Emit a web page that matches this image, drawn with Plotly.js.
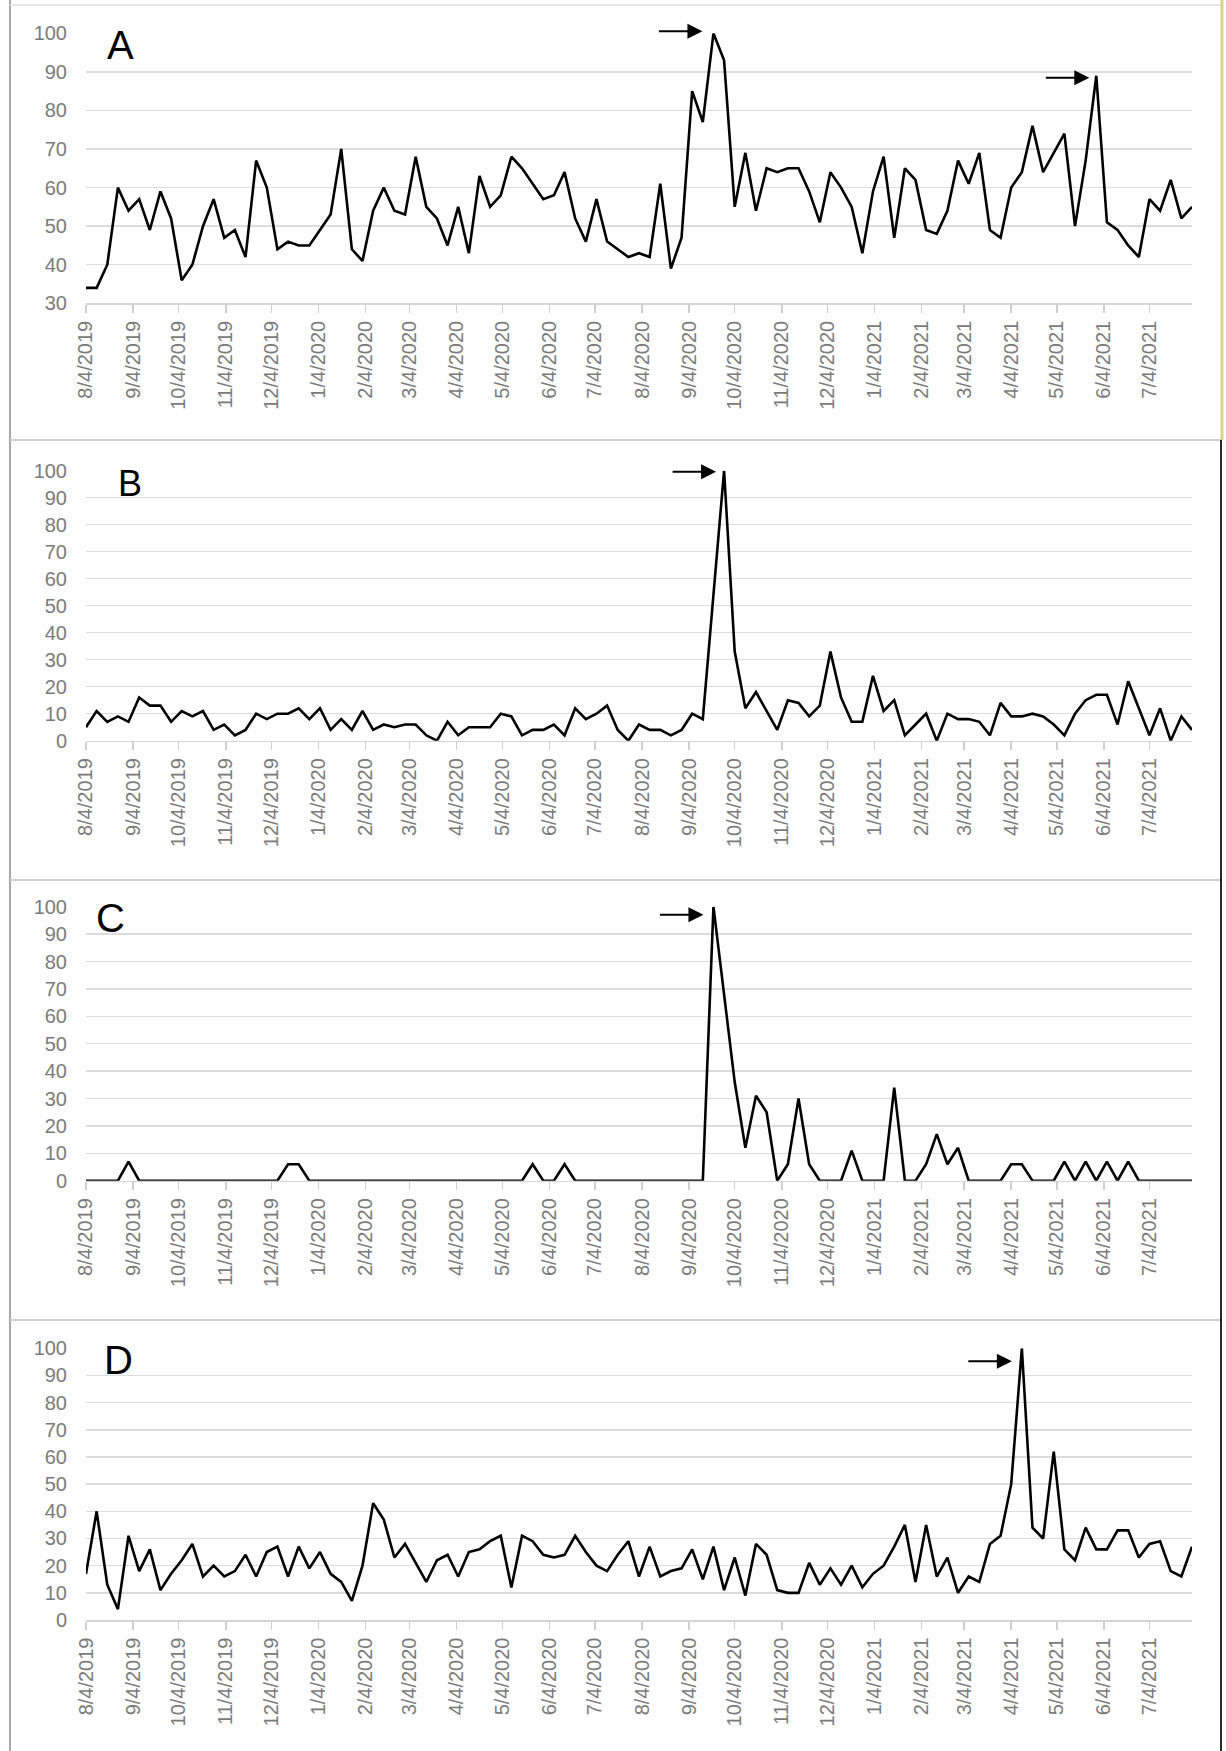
<!DOCTYPE html>
<html><head><meta charset="utf-8">
<script src="https://cdn.plot.ly/plotly-3.0.1.min.js"></script>
<style>html,body{margin:0;padding:0;background:#fff;} #chart{width:1226px;height:1751px;}</style>
</head><body><div id="chart"></div>
<script>
// ---- data ----
const startDate = '2019-08-04';   // first weekly observation (Sunday)
const weekCount = 105;            // weekly observations to 2021-08-01

const tickDates = ['2019-08-04','2019-09-04','2019-10-04','2019-11-04','2019-12-04',
  '2020-01-04','2020-02-04','2020-03-04','2020-04-04','2020-05-04','2020-06-04','2020-07-04',
  '2020-08-04','2020-09-04','2020-10-04','2020-11-04','2020-12-04',
  '2021-01-04','2021-02-04','2021-03-04','2021-04-04','2021-05-04','2021-06-04','2021-07-04'];
const tickLabels = ['8/4/2019','9/4/2019','10/4/2019','11/4/2019','12/4/2019',
  '1/4/2020','2/4/2020','3/4/2020','4/4/2020','5/4/2020','6/4/2020','7/4/2020',
  '8/4/2020','9/4/2020','10/4/2020','11/4/2020','12/4/2020',
  '1/4/2021','2/4/2021','3/4/2021','4/4/2021','5/4/2021','6/4/2021','7/4/2021'];

const seriesA = [34,34,40,60,54,57,49,59,52,36, 40,50,57,47,49,42,67,60,44,46,
  45,45,49,53,70,44,41,54,60,54, 53,68,55,52,45,55,43,63,55,58,
  68,65,61,57,58,64,52,46,57,46, 44,42,43,42,61,39,47,85,77,100,
  93,55,69,54,65,64,65,65,59,51, 64,60,55,43,59,68,47,65,62,49,
  48,54,67,61,69,49,47,60,64,76, 64,69,74,50,67,89,51,49,45,42,
  57,54,62,52,55];
const seriesB = [5,11,7,9,7,16,13,13,7,11, 9,11,4,6,2,4,10,8,10,10,
  12,8,12,4,8,4,11,4,6,5, 6,6,2,0,7,2,5,5,5,10,
  9,2,4,4,6,2,12,8,10,13, 4,0,6,4,4,2,4,10,8,54,
  100,33,12,18,11,4,15,14,9,13, 33,16,7,7,24,11,15,2,6,10,
  0,10,8,8,7,2,14,9,9,10, 9,6,2,10,15,17,17,6,22,12,
  2,12,0,9,4];
const seriesC = [0,0,0,0,7,0,0,0,0,0, 0,0,0,0,0,0,0,0,0,6,
  6,0,0,0,0,0,0,0,0,0, 0,0,0,0,0,0,0,0,0,0,
  0,0,6,0,0,6,0,0,0,0, 0,0,0,0,0,0,0,0,0,100,
  68,36,12,31,25,0,6,30,6,0, 0,0,11,0,0,0,34,0,0,6,
  17,6,12,0,0,0,0,6,6,0, 0,0,7,0,7,0,7,0,7,0,
  0,0,0,0,0];
const seriesD = [17,40,13,4,31,18,26,11,17,22, 28,16,20,16,18,24,16,25,27,16,
  27,19,25,17,14,7,20,43,37,23, 28,21,14,22,24,16,25,26,29,31,
  12,31,29,24,23,24,31,25,20,18, 24,29,16,27,16,18,19,26,15,27,
  11,23,9,28,24,11,10,10,21,13, 19,13,20,12,17,20,27,35,14,35,
  16,23,10,16,14,28,31,50,100,34, 30,62,26,22,34,26,26,33,33,23,
  28,29,18,16,27];

const panelLetters = ['A','B','C','D'];
const yRanges = [[30,100],[0,100],[0,100],[0,100]];
// arrows: which week index they point at, per panel
const arrowTargets = [[0,59],[0,95],[1,60],[2,59],[3,88]];

// ---- build ----
function weeklyDates(start, n){
  const out=[]; const d0=new Date(start+'T00:00:00Z');
  for(let i=0;i<n;i++){ out.push(new Date(d0.getTime()+i*7*86400000).toISOString().slice(0,10)); }
  return out;
}
const dates = weeklyDates(startDate, weekCount);
const allSeries = [seriesA, seriesB, seriesC, seriesD];

const W=1226, H=1751;
const px = x => x/W;
const py = y => 1 - y/H;

// plot-area pixel boxes [top, bottom]
const boxes = [[33.3,303.3],[470.7,740.7],[906.7,1180.7],[1348.3,1620]];
const xL = 86, xR = 1192;
const tickFont = {family:'Liberation Sans, Arial, sans-serif', size:20, color:'#7b7b7b'};

const traces = allSeries.map((s,k)=>({
  x: dates, y: s, type:'scatter', mode:'lines',
  line:{color:'#000000', width:2.6},
  xaxis: k===0?'x':'x'+(k+1), yaxis: k===0?'y':'y'+(k+1),
  hoverinfo:'skip', showlegend:false
}));

const layout = {
  width:W, height:H, margin:{l:0,r:0,t:0,b:0},
  paper_bgcolor:'#ffffff', plot_bgcolor:'#ffffff', showlegend:false,
  shapes:[], annotations:[]
};

boxes.forEach((b,k)=>{
  const xn = k===0?'xaxis':'xaxis'+(k+1);
  const yn = k===0?'yaxis':'yaxis'+(k+1);
  const yr = yRanges[k];
  const tv=[]; for(let v=yr[0]; v<=yr[1]; v+=10) tv.push(v);
  layout[xn] = {
    domain:[px(xL), px(xR)], anchor: k===0?'y':'y'+(k+1),
    type:'date', range:[dates[0], dates[dates.length-1]],
    tickmode:'array', tickvals:tickDates, ticktext:tickLabels, tickangle:-90,
    ticks:'outside', ticklen:8, tickwidth:1.5, tickcolor:'#cfcfcf',
    showline:true, linecolor:'#d4d4d4', linewidth:1.5,
    showgrid:false, zeroline:false, tickfont:tickFont, fixedrange:true
  };
  layout[yn] = {
    domain:[py(b[1]), py(b[0])], anchor: k===0?'x':'x'+(k+1),
    range:yr, tickmode:'array', tickvals:tv, ticktext:tv.map(String),
    showgrid:true, gridcolor:'#dcdcdc', gridwidth:1.5,
    zeroline:false, showline:false, ticks:'', ticklabelstandoff:18,
    tickfont:tickFont, fixedrange:true
  };
});

// letters
const letterPos = [[120,45,40],[130,484,36],[110,918,40],[118,1360,40]];
panelLetters.forEach((L,k)=>{
  layout.annotations.push({text:L, xref:'paper', yref:'paper',
    x:px(letterPos[k][0]), y:py(letterPos[k][1]), xanchor:'center', yanchor:'middle',
    showarrow:false, font:{family:'Liberation Sans, Arial, sans-serif', size:letterPos[k][2], color:'#000'}});
});

// arrows pointing at the peaks
const arrowShift = [[-11,2],[-7,-2],[-8,-1],[-10,-8],[-10,-13]];
arrowTargets.forEach((t,j)=>{
  const k=t[0], i=t[1];
  layout.annotations.push({
    x: dates[i], y: allSeries[k][i],
    xref: k===0?'x':'x'+(k+1), yref: k===0?'y':'y'+(k+1),
    text:'', showarrow:true, arrowhead:2, arrowsize:1.5, arrowwidth:2,
    arrowcolor:'#000', ax:-45, ay:0, axref:'pixel', ayref:'pixel',
    xshift:arrowShift[j][0], yshift:arrowShift[j][1], standoff:0
  });
});

// frame lines
const ln = (x0,y0,x1,y1,c,w)=>({type:'line', xref:'paper', yref:'paper',
  x0:px(x0), y0:py(y0), x1:px(x1), y1:py(y1), line:{color:c, width:w}});
layout.shapes.push(ln(10,0,10,H,'#a8a8a8',2));
layout.shapes.push(ln(10,5,1222,5,'#e6e6e6',2));
layout.shapes.push(ln(10,440,1222,440,'#d0d0d0',2));
layout.shapes.push(ln(10,880,1222,880,'#d0d0d0',2));
layout.shapes.push(ln(10,1320,1222,1320,'#d0d0d0',2));
layout.shapes.push(ln(1222,0,1222,440,'#d8d68c',3));
layout.shapes.push(ln(1221,440,1221,H,'#2a2a2a',2));

Plotly.newPlot('chart', traces, layout, {staticPlot:true, displayModeBar:false});
</script>
</body></html>
